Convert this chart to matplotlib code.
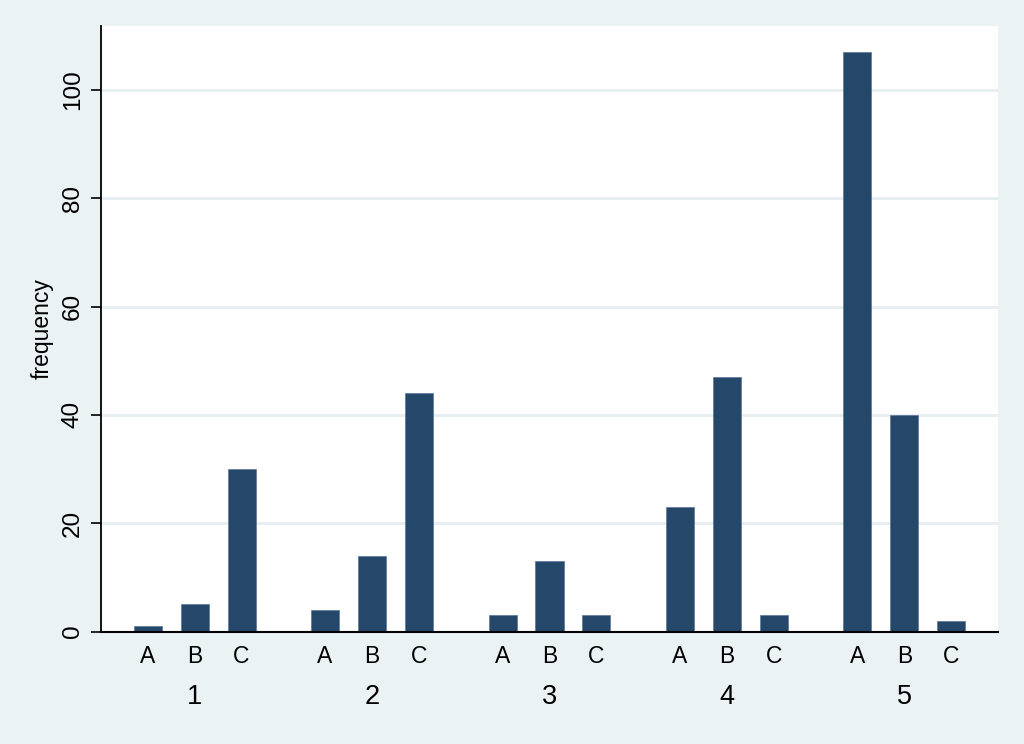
import numpy as np
import matplotlib
matplotlib.use("Agg")
import matplotlib.pyplot as plt

# Données : fréquences par groupe (1..5) et catégorie (A, B, C)
groupes = ["1", "2", "3", "4", "5"]
categories = ["A", "B", "C"]
freq_A = [1, 4, 3, 23, 107]
freq_B = [5, 14, 13, 47, 40]
freq_C = [30, 44, 3, 3, 2]
yticks = [0, 20, 40, 60, 80, 100]

# Couleurs style Stata s2color
fond = "#EAF2F3"
barre = "#25476A"

plt.rcParams['font.family'] = ['Liberation Sans', 'DejaVu Sans']

fig = plt.figure(figsize=(10.24, 7.44), dpi=100, facecolor=fond)
ax = fig.add_axes([101 / 1024, 1 - 631.5 / 744, 897 / 1024, 605.5 / 744])
ax.set_facecolor("white")

# Positions des barres : pas de 1 dans un groupe, 3.777 entre groupes
ecart_groupe = 3.777
largeur = 0.596
valeurs = np.array([freq_A, freq_B, freq_C]).T
positions = []
labels = []
for g in range(len(groupes)):
    for c in range(len(categories)):
        x = g * ecart_groupe + c
        positions.append(x)
        labels.append(categories[c])
        ax.bar(x, valeurs[g, c], width=largeur, color=barre,
               edgecolor="#5a7796", linewidth=0.5, zorder=3)

# Grille horizontale
for y in yticks[1:]:
    ax.axhline(y, color="#E6EEF1", linewidth=2, zorder=1)

ax.set_xlim(-0.99, 4 * ecart_groupe + 2 + 0.99)
ax.set_ylim(0, 111.8)

ax.set_yticks(yticks)
ax.set_yticklabels([str(v) for v in yticks], rotation=90, va="center", fontsize=17.5)
ax.tick_params(axis="y", direction="out", length=7.5, width=1.2, pad=5)

ax.set_xticks(positions)
ax.set_xticklabels(labels, fontsize=16.5)
ax.tick_params(axis="x", length=0, pad=10)

# Étiquettes des groupes sous les catégories
for g, nom in enumerate(groupes):
    ax.annotate(nom, xy=(g * ecart_groupe + 1, 0), xycoords=("data", "axes fraction"),
                xytext=(0, -47.5), textcoords="offset points",
                ha="center", va="center", fontsize=19.5)

ax.set_ylabel("frequency", fontsize=16.5, labelpad=6)

for cote in ["top", "right"]:
    ax.spines[cote].set_visible(False)
ax.spines["left"].set_linewidth(1.3)
ax.spines["bottom"].set_linewidth(1.5)
ax.spines["left"].set_zorder(4)
ax.spines["bottom"].set_zorder(4)

fig.savefig("out.png", dpi=100, facecolor=fond)
